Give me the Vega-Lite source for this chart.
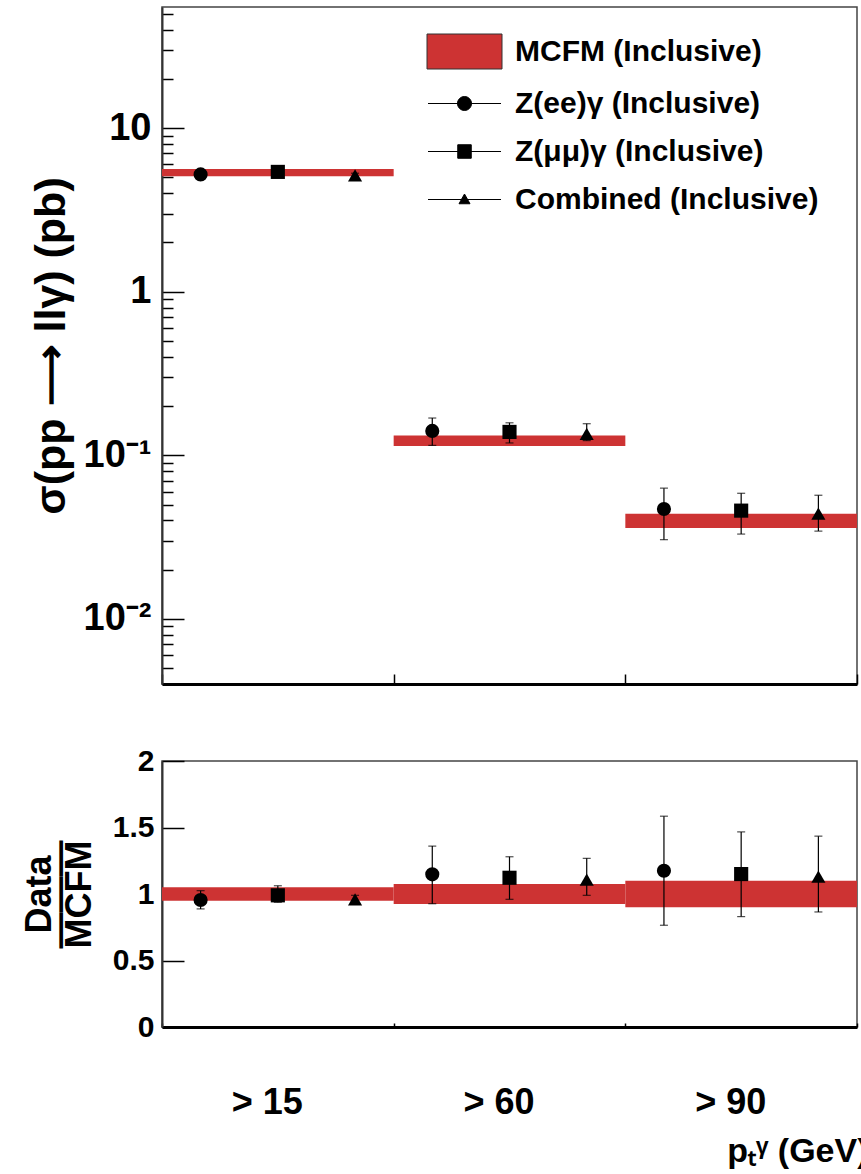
{
  "$schema": "https://vega.github.io/schema/vega-lite/v6.json",
  "background": "white",
  "padding": {"left": 20, "top": 6, "right": 0, "bottom": 0},
  "config": {
    "font": "Liberation Sans",
    "view": {"stroke": "#444", "strokeWidth": 1.5},
    "axis": {
      "labelFont": "Liberation Sans", "titleFont": "Liberation Sans",
      "labelFontWeight": "bold", "titleFontWeight": "bold",
      "labelColor": "black", "titleColor": "black",
      "tickColor": "black", "tickWidth": 1.5, "domainColor": "#333",
      "grid": false, "labelOverlap": false
    }
  },
  "datasets": {
    "pts": [
      {"ptcut": "> 15", "series": "Z(ee)γ", "xs": 5.21, "xs_lo": 5.0, "xs_hi": 5.43, "r": 0.955, "r_lo": 0.888, "r_hi": 1.025},
      {"ptcut": "> 15", "series": "Z(μμ)γ", "xs": 5.40, "xs_lo": 5.22, "xs_hi": 5.58, "r": 0.99, "r_lo": 0.938, "r_hi": 1.062},
      {"ptcut": "> 15", "series": "Combined", "xs": 5.15, "xs_lo": 5.02, "xs_hi": 5.3, "r": 0.96, "r_lo": 0.93, "r_hi": 0.99},
      {"ptcut": "> 60", "series": "Z(ee)γ", "xs": 0.141, "xs_lo": 0.115, "xs_hi": 0.169, "r": 1.148, "r_lo": 0.927, "r_hi": 1.36},
      {"ptcut": "> 60", "series": "Z(μμ)γ", "xs": 0.139, "xs_lo": 0.119, "xs_hi": 0.158, "r": 1.122, "r_lo": 0.96, "r_hi": 1.28},
      {"ptcut": "> 60", "series": "Combined", "xs": 0.135, "xs_lo": 0.123, "xs_hi": 0.156, "r": 1.108, "r_lo": 0.99, "r_hi": 1.268},
      {"ptcut": "> 90", "series": "Z(ee)γ", "xs": 0.047, "xs_lo": 0.0305, "xs_hi": 0.063, "r": 1.175, "r_lo": 0.765, "r_hi": 1.585},
      {"ptcut": "> 90", "series": "Z(μμ)γ", "xs": 0.0459, "xs_lo": 0.033, "xs_hi": 0.0586, "r": 1.15, "r_lo": 0.83, "r_hi": 1.467},
      {"ptcut": "> 90", "series": "Combined", "xs": 0.044, "xs_lo": 0.0344, "xs_hi": 0.057, "r": 1.131, "r_lo": 0.865, "r_hi": 1.435}
    ],
    "mcfm": [
      {"ptcut": "> 15", "xs_lo": 5.08, "xs_hi": 5.62, "r_lo": 0.95, "r_hi": 1.05},
      {"ptcut": "> 60", "xs_lo": 0.114, "xs_hi": 0.132, "r_lo": 0.925, "r_hi": 1.075},
      {"ptcut": "> 90", "xs_lo": 0.036, "xs_hi": 0.044, "r_lo": 0.9, "r_hi": 1.1}
    ],
    "legendrows": [
      {"series": "MCFM"}
    ]
  },
  "spacing": 59,
  "vconcat": [
    {
      "width": 695,
      "height": 677,
      "encoding": {
        "x": {
          "field": "ptcut", "type": "nominal",
          "scale": {"domain": ["> 15", "> 60", "> 90"], "paddingInner": 0, "paddingOuter": 0},
          "axis": {"labels": false, "title": null, "tickBand": "extent", "tickSize": -10, "domainWidth": 3, "domainColor": "black"}
        }
      },
      "layer": [
        {
          "data": {"name": "mcfm"},
          "mark": {"type": "bar", "color": "#cd3333"},
          "encoding": {
            "y": {
              "field": "xs_lo", "type": "quantitative",
              "scale": {"type": "log", "domain": [0.004, 55], "nice": false},
              "axis": {
                "values": [0.004, 0.005, 0.006, 0.007, 0.008, 0.009, 0.01, 0.02, 0.03, 0.04, 0.05, 0.06, 0.07, 0.08, 0.09, 0.1, 0.2, 0.3, 0.4, 0.5, 0.6, 0.7, 0.8, 0.9, 1, 2, 3, 4, 5, 6, 7, 8, 9, 10, 20, 30, 40, 50],
                "labelExpr": "datum.value == 10 ? '10' : datum.value == 1 ? '1' : datum.value == 0.1 ? '10⁻¹' : datum.value == 0.01 ? '10⁻²' : ''",
                "tickSize": {"condition": {"test": "indexof([0.01, 0.1, 1, 10], datum.value) >= 0", "value": -22}, "value": -11},
                "labelFontSize": {"condition": {"test": "indexof([0.01, 0.1, 1, 10], datum.value) >= 0", "value": 38}, "value": 1},
                "labelPadding": 33,
                "domainWidth": 2,
                "title": "σ(pp ⟶ llγ) (pb)",
                "titleFontSize": 43,
                "titlePadding": 10
              }
            },
            "y2": {"field": "xs_hi"}
          }
        },
        {
          "data": {"name": "pts"},
          "mark": {"type": "rule", "color": "black", "strokeWidth": 1.2},
          "encoding": {
            "xOffset": {"field": "series", "type": "nominal", "scale": {"domain": ["Z(ee)γ", "Z(μμ)γ", "Combined"], "paddingInner": 0, "paddingOuter": 0}},
            "y": {"field": "xs_lo", "type": "quantitative"},
            "y2": {"field": "xs_hi"}
          }
        },
        {
          "data": {"name": "pts"},
          "mark": {"type": "tick", "color": "black", "size": 8, "thickness": 1.2},
          "encoding": {
            "xOffset": {"field": "series", "type": "nominal"},
            "y": {"field": "xs_lo", "type": "quantitative"}
          }
        },
        {
          "data": {"name": "pts"},
          "mark": {"type": "tick", "color": "black", "size": 8, "thickness": 1.2},
          "encoding": {
            "xOffset": {"field": "series", "type": "nominal"},
            "y": {"field": "xs_hi", "type": "quantitative"}
          }
        },
        {
          "data": {"name": "pts"},
          "mark": {"type": "point", "filled": true, "color": "black", "opacity": 1, "size": 200},
          "encoding": {
            "xOffset": {"field": "series", "type": "nominal"},
            "y": {"field": "xs", "type": "quantitative"},
            "shape": {"field": "series", "type": "nominal", "scale": {"domain": ["Z(ee)γ", "Z(μμ)γ", "Combined"], "range": ["circle", "square", "triangle-up"]}, "legend": null}
          }
        },
        {
          "data": {"name": "legendrows"},
          "transform": [{"filter": "false"}],
          "mark": {"type": "point", "opacity": 1, "strokeWidth": 1},
          "encoding": {
            "shape": {
              "field": "series", "type": "nominal",
              "scale": {"domain": ["MCFM", "Z(ee)γ", "Z(μμ)γ", "Combined"], "range": ["M-1.5,-0.7H1.5V0.7H-1.5Z", "M-1.46,0H1.46M-0.28,0A0.28,0.28,0,1,0,0.28,0A0.28,0.28,0,1,0,-0.28,0Z", "M-1.46,0H1.46M-0.27,-0.27H0.27V0.27H-0.27Z", "M-1.46,0H1.46M-0.22,0.17L0.22,0.17L0,-0.22Z"]},
              "legend": {
                "orient": "none", "legendX": 277, "legendY": 19, "title": null, "padding": 0,
                "symbolSize": 2500, "rowPadding": 7, "labelOffset": 25, "symbolStrokeWidth": 1,
                "labelFont": "Liberation Sans", "labelFontSize": 30, "labelFontWeight": "bold", "labelColor": "black", "labelLimit": 0,
                "labelExpr": "datum.label + ' (Inclusive)'"
              }
            },
            "fill": {
              "field": "series", "type": "nominal",
              "scale": {"domain": ["MCFM", "Z(ee)γ", "Z(μμ)γ", "Combined"], "range": ["#cd3333", "black", "black", "black"]},
              "legend": {
                "orient": "none", "legendX": 277, "legendY": 19, "title": null, "padding": 0,
                "symbolSize": 2500, "rowPadding": 7, "labelOffset": 25, "symbolStrokeWidth": 1,
                "labelFont": "Liberation Sans", "labelFontSize": 30, "labelFontWeight": "bold", "labelColor": "black", "labelLimit": 0,
                "labelExpr": "datum.label + ' (Inclusive)'"
              }
            },
            "stroke": {
              "field": "series", "type": "nominal",
              "scale": {"domain": ["MCFM", "Z(ee)γ", "Z(μμ)γ", "Combined"], "range": ["#333", "black", "black", "black"]},
              "legend": {
                "orient": "none", "legendX": 277, "legendY": 19, "title": null, "padding": 0,
                "symbolSize": 2500, "rowPadding": 7, "labelOffset": 25, "symbolStrokeWidth": 1,
                "labelFont": "Liberation Sans", "labelFontSize": 30, "labelFontWeight": "bold", "labelColor": "black", "labelLimit": 0,
                "labelExpr": "datum.label + ' (Inclusive)'"
              }
            }
          }
        }
      ],
      "resolve": {"scale": {"shape": "independent", "fill": "independent", "stroke": "independent"}}
    },
    {
      "width": 695,
      "height": 266,
      "encoding": {
        "x": {
          "field": "ptcut", "type": "nominal",
          "scale": {"domain": ["> 15", "> 60", "> 90"], "paddingInner": 0, "paddingOuter": 0},
          "axis": {
            "labelAngle": 0, "labelFontSize": 36, "labelPadding": 62, "labelOffset": -11,
            "tickBand": "extent", "tickSize": -4, "domainWidth": 3, "domainColor": "black",
            "title": "pₜᵞ (GeV)", "titleFontSize": 34, "titleAlign": "right", "titleBaseline": "alphabetic",
            "titleX": 706, "titleY": 134
          }
        }
      },
      "layer": [
        {
          "data": {"name": "mcfm"},
          "mark": {"type": "bar", "color": "#cd3333"},
          "encoding": {
            "y": {
              "field": "r_lo", "type": "quantitative",
              "scale": {"domain": [0, 2], "nice": false, "zero": false},
              "axis": {
                "values": [0, 0.5, 1, 1.5, 2], "format": "~g",
                "tickSize": -22, "labelPadding": 30, "labelFontSize": 30, "domainWidth": 2,
                "title": ["Data", "———", "MCFM"], "titleFontSize": 36, "titleLineHeight": 20, "titlePadding": 14
              }
            },
            "y2": {"field": "r_hi"}
          }
        },
        {
          "data": {"name": "pts"},
          "mark": {"type": "rule", "color": "black", "strokeWidth": 1.2},
          "encoding": {
            "xOffset": {"field": "series", "type": "nominal", "scale": {"domain": ["Z(ee)γ", "Z(μμ)γ", "Combined"], "paddingInner": 0, "paddingOuter": 0}},
            "y": {"field": "r_lo", "type": "quantitative"},
            "y2": {"field": "r_hi"}
          }
        },
        {
          "data": {"name": "pts"},
          "mark": {"type": "tick", "color": "black", "size": 8, "thickness": 1.2},
          "encoding": {
            "xOffset": {"field": "series", "type": "nominal"},
            "y": {"field": "r_lo", "type": "quantitative"}
          }
        },
        {
          "data": {"name": "pts"},
          "mark": {"type": "tick", "color": "black", "size": 8, "thickness": 1.2},
          "encoding": {
            "xOffset": {"field": "series", "type": "nominal"},
            "y": {"field": "r_hi", "type": "quantitative"}
          }
        },
        {
          "data": {"name": "pts"},
          "mark": {"type": "point", "filled": true, "color": "black", "opacity": 1, "size": 200},
          "encoding": {
            "xOffset": {"field": "series", "type": "nominal"},
            "y": {"field": "r", "type": "quantitative"},
            "shape": {"field": "series", "type": "nominal", "scale": {"domain": ["Z(ee)γ", "Z(μμ)γ", "Combined"], "range": ["circle", "square", "triangle-up"]}, "legend": null}
          }
        }
      ]
    }
  ]
}
